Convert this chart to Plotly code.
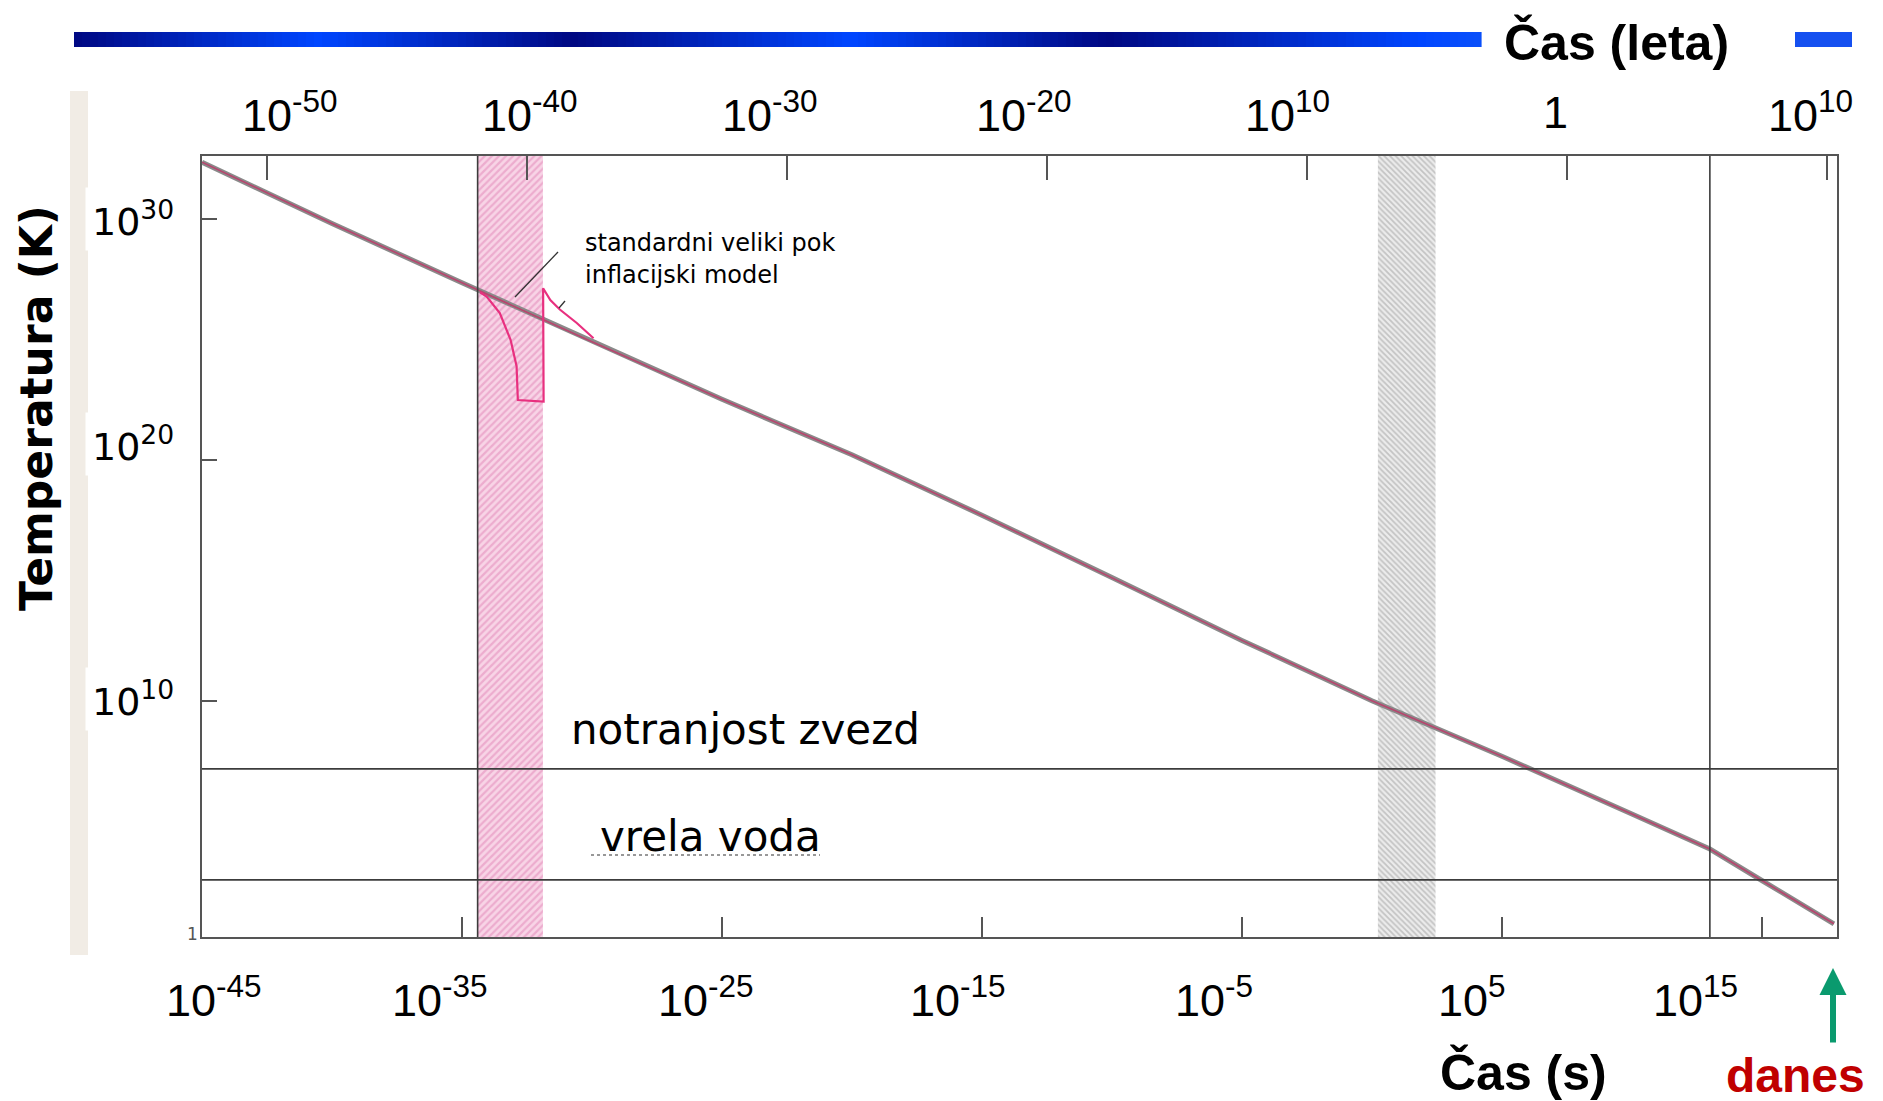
import math
import plotly.graph_objects as go

# ---------------- data ----------------
# main cooling curve: time in seconds, temperature in K
time_s = [1e-45, 1e-40, 1e-35, 1e-30, 1e-25, 1e-20, 1e-15, 1e-10, 1e-5, 1.0,
          1e5, 1e10, 1e13, 1e15, 5.9e17]
temp_K = [2.2e32, 6.3e29, 2.2e27, 7.9e24, 3.2e22, 1.6e20, 5.0e17, 1.3e15, 3.2e12, 1.0e10,
          5.0e7, 2.0e5, 7.1e3, 3.5e2, 5.6]

# inflationary model curve (pink)
infl_time_s = [5e-35, 8.9e-35, 2.85e-34, 7.4e-34, 1.26e-33, 1.41e-33, 1.38e-32, 1.32e-32,
               2.5e-32, 5.8e-32, 2.6e-31, 1.15e-30]
infl_temp_K = [8.9e26, 5.9e26, 1.2e26, 9.5e24, 7.6e23, 3.0e22, 2.6e22, 1.3e27,
               4.2e26, 1.7e26, 4.7e25, 1.1e25]

# shaded epochs (seconds)
inflation_band = [4e-35, 1.3e-32]
nucleo_band = [1.7, 280.0]
decoupling_time = 1e13

# reference temperatures (K)
star_interior_T = 1.5e7
boiling_water_T = 373.0

# axis ticks
bottom_ticks = [1e-45, 1e-35, 1e-25, 1e-15, 1e-5, 1e5, 1e15]
bottom_labels = ["10<sup>-45</sup>", "10<sup>-35</sup>", "10<sup>-25</sup>", "10<sup>-15</sup>",
                 "10<sup>-5</sup>", "10<sup>5</sup>", "10<sup>15</sup>"]
top_ticks_yr = [1e-50, 1e-40, 1e-30, 1e-20, 1e-10, 1.0, 1e10]
top_labels = ["10<sup>-50</sup>", "10<sup>-40</sup>", "10<sup>-30</sup>", "10<sup>-20</sup>",
              "10<sup>10</sup>", "1", "10<sup>10</sup>"]
y_ticks = [1e30, 1e20, 1e10]
y_labels = ["10<sup>30</sup>", "10<sup>20</sup>", "10<sup>10</sup>"]

SECONDS_PER_YEAR = 3.156e7
X_RANGE_LOG = [-45.0, 17.89]
Y_RANGE_LOG = [0.2, 32.6]

# ---------------- layout helpers (window pixel -> paper) ----------------
OFF = 8                      # default page body margin
W, H = 1883 - OFF, 1101 - OFF
L, T = 202 - OFF, 156 - OFF  # plot area origin in figure pixels
R, B = 46, 164
PW, PH = W - L - R, H - T - B


def fx(p):
    return (p - OFF - L) / PW


def fy(p):
    return (H - B - (p - OFF)) / PH


y_lo, y_hi = 10 ** Y_RANGE_LOG[0], 10 ** Y_RANGE_LOG[1]

fig = go.Figure()

# shaded bands (hatched)
fig.add_trace(go.Scatter(
    x=[inflation_band[0], inflation_band[1], inflation_band[1], inflation_band[0], inflation_band[0]],
    y=[y_lo, y_lo, y_hi, y_hi, y_lo], mode="lines", line=dict(width=0), fill="toself",
    fillcolor="#f6c9df",
    fillpattern=dict(shape="/", bgcolor="#f8d4e6", fgcolor="#e184b6", size=5, solidity=0.45),
    hoverinfo="skip"))
fig.add_trace(go.Scatter(
    x=[nucleo_band[0], nucleo_band[1], nucleo_band[1], nucleo_band[0], nucleo_band[0]],
    y=[y_lo, y_lo, y_hi, y_hi, y_lo], mode="lines", line=dict(width=0), fill="toself",
    fillcolor="#d8d8d8",
    fillpattern=dict(shape="\\", bgcolor="#ececec", fgcolor="#9a9a9a", size=4, solidity=0.45),
    hoverinfo="skip"))

# main curve: grey body with reddish core
fig.add_trace(go.Scatter(x=time_s, y=temp_K, mode="lines",
                         line=dict(color="#8a8a8a", width=5), hoverinfo="skip"))
fig.add_trace(go.Scatter(x=time_s, y=temp_K, mode="lines",
                         line=dict(color="#b8456e", width=1.6), hoverinfo="skip"))

# inflation curve
fig.add_trace(go.Scatter(x=infl_time_s, y=infl_temp_K, mode="lines",
                         line=dict(color="#e8307f", width=2.2), hoverinfo="skip"))

# invisible trace to activate top (years) axis
fig.add_trace(go.Scatter(x=top_ticks_yr, y=[y_lo] * len(top_ticks_yr), xaxis="x2", yaxis="y",
                         mode="markers", marker=dict(opacity=0), hoverinfo="skip"))

axis_col = "#555555"
fig.update_layout(
    width=W, height=H, margin=dict(l=L, r=R, t=T, b=B, autoexpand=False),
    paper_bgcolor="white", plot_bgcolor="white", showlegend=False,
    xaxis=dict(type="log", range=X_RANGE_LOG, showgrid=False, zeroline=False,
               showline=True, linecolor=axis_col, linewidth=2,
               ticks="inside", tickvals=bottom_ticks, ticklen=20, tickwidth=1.5,
               tickcolor=axis_col, showticklabels=False),
    xaxis2=dict(type="log", overlaying="x", side="top",
                range=[X_RANGE_LOG[0] - math.log10(SECONDS_PER_YEAR),
                       X_RANGE_LOG[1] - math.log10(SECONDS_PER_YEAR)],
                showgrid=False, zeroline=False, showline=True, linecolor=axis_col, linewidth=2,
                ticks="inside", tickvals=top_ticks_yr, ticklen=24, tickwidth=1.5,
                tickcolor=axis_col, showticklabels=False),
    yaxis=dict(type="log", range=Y_RANGE_LOG, showgrid=False, zeroline=False,
               showline=True, linecolor=axis_col, linewidth=2, mirror=True,
               ticks="inside", tickvals=y_ticks, ticklen=15, tickwidth=1.5,
               tickcolor=axis_col, showticklabels=False),
)

shapes = []
# horizontal reference lines (data values on log axis)
for tv in (star_interior_T, boiling_water_T):
    shapes.append(dict(type="line", xref="x domain", x0=0, x1=1, yref="y",
                       y0=tv, y1=tv, line=dict(color="#3c3c3c", width=1.6)))
# vertical lines: decoupling, inflation-band left edge
for tv in (decoupling_time, inflation_band[0]):
    shapes.append(dict(type="line", yref="y domain", y0=0, y1=1, xref="x",
                       x0=tv, x1=tv, line=dict(color="#3c3c3c", width=1.6)))

# decorative gradient bar at top
stops = [(74, (0, 8, 130)), (318, (0, 70, 255)), (575, (0, 8, 130)), (851, (0, 70, 255)),
         (1108, (0, 8, 130)), (1421, (0, 70, 255)), (1481, (10, 80, 250))]


def grad_col(p):
    for (p0, c0), (p1, c1) in zip(stops[:-1], stops[1:]):
        if p0 <= p <= p1:
            f = (p - p0) / (p1 - p0)
            return "rgb(%d,%d,%d)" % tuple(round(a + (b - a) * f) for a, b in zip(c0, c1))
    return "rgb(%d,%d,%d)" % stops[-1][1]


step = 8
p = 74
while p < 1481:
    p2 = min(p + step, 1481)
    shapes.append(dict(type="rect", xref="paper", yref="paper", x0=fx(p), x1=fx(p2 + 0.6),
                       y0=fy(47), y1=fy(32), fillcolor=grad_col((p + p2) / 2),
                       line=dict(width=0), layer="above"))
    p = p2
shapes.append(dict(type="rect", xref="paper", yref="paper", x0=fx(1795), x1=fx(1852),
                   y0=fy(47), y1=fy(32), fillcolor="#1550f0", line=dict(width=0)))

# scanned-paper edge strip at left
shapes.append(dict(type="rect", xref="paper", yref="paper", x0=fx(70), x1=fx(88),
                   y0=fy(955), y1=fy(91), fillcolor="#f1ece5", line=dict(width=0), layer="below"))

# leader lines
shapes.append(dict(type="line", xref="paper", yref="paper", x0=fx(558), y0=fy(252),
                   x1=fx(515), y1=fy(297), line=dict(color="#333", width=1.3)))
shapes.append(dict(type="line", xref="paper", yref="paper", x0=fx(565), y0=fy(301),
                   x1=fx(559), y1=fy(308), line=dict(color="#333", width=1.3)))
# dotted underline under "vrela voda"
shapes.append(dict(type="line", xref="paper", yref="paper", x0=fx(591), y0=fy(855),
                   x1=fx(820), y1=fy(855), line=dict(color="#777", width=1.5, dash="dot")))

fig.update_layout(shapes=shapes)

tick_font = "Liberation Sans, Arial, sans-serif"
ann = []
# bottom tick labels
bottom_shift = [12, -22, -16, -24, -28, -30, -66]
for v, txt, s in zip(bottom_ticks, bottom_labels, bottom_shift):
    ann.append(dict(x=math.log10(v), xref="x", y=fy(997), yref="paper", text=txt,
                    showarrow=False, xanchor="center", yanchor="middle", xshift=s,
                    font=dict(family=tick_font, size=45, color="black")))
# top tick labels (years)
top_shift = [23, 3, -17, -23, -19, -11, -16]
for v, txt, s in zip(top_ticks_yr, top_labels, top_shift):
    ann.append(dict(x=math.log10(v), xref="x2", y=fy(112), yref="paper", text=txt,
                    showarrow=False, xanchor="center", yanchor="middle", xshift=s,
                    font=dict(family=tick_font, size=45, color="black")))
# y tick labels
y_shift = [0, 16, 2]
for v, txt, s in zip(y_ticks, y_labels, y_shift):
    ann.append(dict(x=fx(133), xref="paper", y=math.log10(v), yref="y", text=txt,
                    showarrow=False, xanchor="center", yanchor="middle", yshift=s,
                    bgcolor="white", borderpad=6,
                    font=dict(family="DejaVu Sans", size=38, color="black")))
ann.append(dict(x=fx(192), xref="paper", y=fy(934), yref="paper", text="1", showarrow=False,
                xanchor="center", yanchor="middle",
                font=dict(family="DejaVu Sans", size=17, color="#555")))

# titles
ann.append(dict(x=fx(1616), y=fy(42), xref="paper", yref="paper", text="<b>Čas (leta)</b>",
                showarrow=False, xanchor="center", yanchor="middle",
                font=dict(family=tick_font, size=50, color="black")))
ann.append(dict(x=fx(1523), y=fy(1072), xref="paper", yref="paper", text="<b>Čas (s)</b>",
                showarrow=False, xanchor="center", yanchor="middle",
                font=dict(family=tick_font, size=50, color="black")))
ann.append(dict(x=fx(1795), y=fy(1075), xref="paper", yref="paper", text="<b>danes</b>",
                showarrow=False, xanchor="center", yanchor="middle",
                font=dict(family=tick_font, size=48, color="#c00000")))
ann.append(dict(x=fx(36), y=fy(408), xref="paper", yref="paper", text="<b>Temperatura (K)</b>",
                showarrow=False, textangle=-90, xanchor="center", yanchor="middle",
                font=dict(family="DejaVu Sans", size=44, color="black")))
# green arrow (danes)
ann.append(dict(x=fx(1833), y=fy(968), xref="paper", yref="paper", text="", showarrow=True,
                ax=0, ay=76, arrowcolor="#0a9a6e", arrowwidth=6, arrowhead=2, arrowsize=0.9))

# in-plot texts
ann.append(dict(x=fx(583), y=fy(243), xref="paper", yref="paper", text="standardni veliki pok",
                showarrow=False, xanchor="left", yanchor="middle",
                font=dict(family="DejaVu Sans", size=24, color="black")))
ann.append(dict(x=fx(583), y=fy(275), xref="paper", yref="paper", text="inflacijski model",
                showarrow=False, xanchor="left", yanchor="middle",
                font=dict(family="DejaVu Sans", size=24, color="black")))
ann.append(dict(x=fx(569), y=fy(729), xref="paper", yref="paper", text="notranjost zvezd",
                showarrow=False, xanchor="left", yanchor="middle",
                font=dict(family="DejaVu Sans", size=42, color="black")))
ann.append(dict(x=fx(598), y=fy(836), xref="paper", yref="paper", text="vrela voda",
                showarrow=False, xanchor="left", yanchor="middle",
                font=dict(family="DejaVu Sans", size=42, color="black")))

fig.update_layout(annotations=ann)

fig.write_html("out.html")
